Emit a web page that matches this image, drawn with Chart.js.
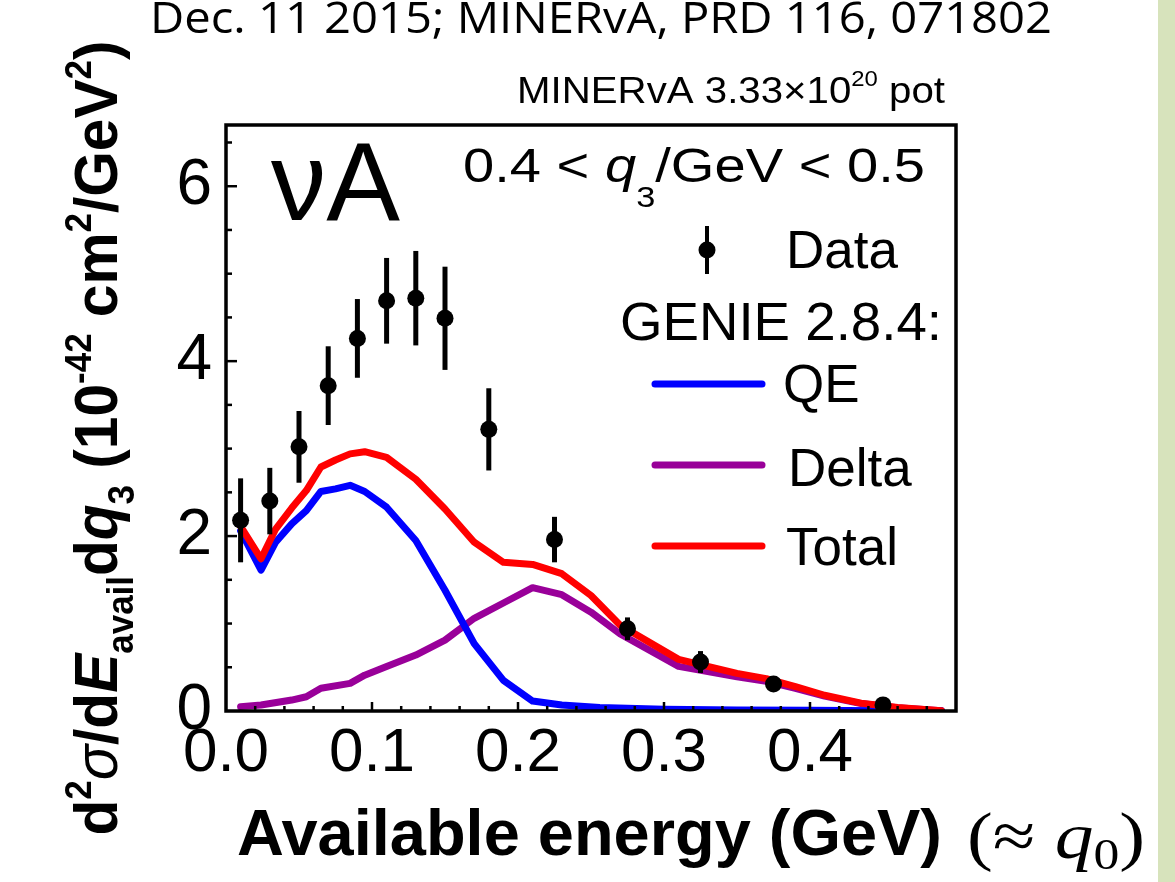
<!DOCTYPE html>
<html>
<head>
<meta charset="utf-8">
<script src="https://cdn.jsdelivr.net/npm/chart.js@4.4.1/dist/chart.umd.min.js"></script>
<style>
  html, body { margin: 0; padding: 0; background: #fff; }
  #wrap { width: 1175px; height: 882px; position: relative; }
</style>
</head>
<body>
<div id="wrap"><canvas id="chart"></canvas></div>
<script>
// MINERvA data points (bin centres, cross section, error)
const dataX   = [0.01, 0.03, 0.05, 0.07, 0.09, 0.11, 0.13, 0.15, 0.18, 0.225, 0.275, 0.325, 0.375, 0.45];
const dataY   = [2.18, 2.40, 3.02, 3.72, 4.26, 4.69, 4.72, 4.49, 3.22, 1.96, 0.94, 0.56, 0.31, 0.07];
const dataErr = [0.48, 0.38, 0.41, 0.45, 0.45, 0.49, 0.54, 0.59, 0.47, 0.26, 0.13, 0.125, 0.06, 0.04];

// GENIE 2.8.4 curves
const totalX = [0.01, 0.024, 0.034, 0.045, 0.055, 0.065, 0.075, 0.085, 0.095, 0.11, 0.13, 0.15, 0.17, 0.19, 0.21, 0.23, 0.25, 0.27, 0.31, 0.35, 0.37, 0.39, 0.41, 0.435, 0.46, 0.49];
const totalY = [2.11, 1.74, 2.08, 2.32, 2.52, 2.79, 2.87, 2.94, 2.965, 2.90, 2.65, 2.31, 1.93, 1.70, 1.676, 1.57, 1.32, 0.98, 0.59, 0.43, 0.37, 0.28, 0.18, 0.09, 0.04, 0.004];
const qeX = [0.01, 0.024, 0.034, 0.045, 0.055, 0.065, 0.075, 0.085, 0.095, 0.11, 0.13, 0.15, 0.17, 0.19, 0.21, 0.23, 0.256, 0.30, 0.35, 0.40, 0.45, 0.49];
const qeY = [2.06, 1.61, 1.93, 2.14, 2.29, 2.51, 2.54, 2.58, 2.51, 2.33, 1.95, 1.38, 0.77, 0.35, 0.114, 0.068, 0.04, 0.02, 0.012, 0.008, 0.004, 0.002];
const deltaX = [0.01, 0.024, 0.045, 0.055, 0.065, 0.085, 0.095, 0.11, 0.13, 0.15, 0.17, 0.19, 0.21, 0.23, 0.25, 0.27, 0.31, 0.35, 0.37, 0.39, 0.41, 0.435, 0.46, 0.49];
const deltaY = [0.05, 0.068, 0.125, 0.163, 0.26, 0.316, 0.41, 0.51, 0.64, 0.81, 1.06, 1.235, 1.41, 1.33, 1.13, 0.88, 0.51, 0.39, 0.34, 0.26, 0.17, 0.085, 0.038, 0.003];

// axis ticks
const xTickValues = [0, 0.1, 0.2, 0.3, 0.4];
const xTickLabels = ['0.0', '0.1', '0.2', '0.3', '0.4'];
const yTickValues = [0, 2, 4, 6];
const yTickLabels = ['0', '2', '4', '6'];

const SANS = "'Liberation Sans', Arial, Helvetica, sans-serif";
const SERIF = "'Liberation Serif', 'Times New Roman', serif";

const toPoints = (xs, ys) => xs.map((x, i) => ({ x: x, y: ys[i] }));

// draws a list of text runs (different fonts / offsets) one after another,
// optionally squeezed to a given length and rotated
function drawRuns(ctx, runs, x, y, opt) {
    opt = opt || {};
    ctx.save();
    let total = 0;
    runs.forEach(r => { ctx.font = r.font; r.w = ctx.measureText(r.t).width; total += r.w; });
    const sx = opt.width ? opt.width / total : 1;
    ctx.translate(x, y);
    if (opt.rotate) ctx.rotate(opt.rotate);
    if (opt.center) ctx.translate(-total * sx / 2, 0);
    ctx.scale(sx, 1);
    ctx.fillStyle = '#000';
    ctx.textBaseline = 'alphabetic';
    ctx.textAlign = 'left';
    let cx = 0;
    runs.forEach(r => {
        ctx.font = r.font;
        ctx.fillText(r.t, cx, r.dy || 0);
        cx += r.w;
    });
    ctx.restore();
}

const decor = {
    id: 'decor',
    beforeDraw(chart) {
        const ctx = chart.ctx;
        ctx.save();
        ctx.fillStyle = '#d7e3bc';
        ctx.fillRect(1158, 0, 17, 882);
        ctx.restore();
    },
    afterDatasetsDraw(chart) {
        // error bars on the data points
        const ctx = chart.ctx, xs = chart.scales.x, ys = chart.scales.y;
        ctx.save();
        ctx.strokeStyle = '#000';
        ctx.lineWidth = 5;
        ctx.lineCap = 'butt';
        dataX.forEach((v, i) => {
            const px = xs.getPixelForValue(v);
            ctx.beginPath();
            ctx.moveTo(px, ys.getPixelForValue(dataY[i] - dataErr[i]));
            ctx.lineTo(px, ys.getPixelForValue(dataY[i] + dataErr[i]));
            ctx.stroke();
        });
        ctx.restore();
    },
    afterDraw(chart) {
        const ctx = chart.ctx, a = chart.chartArea, xs = chart.scales.x, ys = chart.scales.y;
        ctx.save();

        // frame + inward ticks
        ctx.strokeStyle = '#000';
        ctx.lineWidth = 3.5;
        ctx.strokeRect(a.left, a.top, a.right - a.left, a.bottom - a.top);
        ctx.lineWidth = 2.5;
        for (let k = 1; k < 25; k++) {
            const px = xs.getPixelForValue(k * 0.02);
            const len = k % 5 === 0 ? 9 : 5;
            ctx.beginPath(); ctx.moveTo(px, a.bottom); ctx.lineTo(px, a.bottom - len); ctx.stroke();
        }
        for (let k = 1; k <= 13; k++) {
            const py = ys.getPixelForValue(k * 0.5);
            const len = k % 4 === 0 ? 11 : 6;
            ctx.beginPath(); ctx.moveTo(a.left, py); ctx.lineTo(a.left + len, py); ctx.stroke();
        }

        // header lines
        drawRuns(ctx, [{ t: 'Dec. 11 2015; MINERvA, PRD 116, 071802', font: "44px 'Open Sans', " + SANS }], 150, 33, { width: 902 });
        drawRuns(ctx, [
            { t: 'MINERvA 3.33\u00d710', font: '37px ' + SANS },
            { t: '20', font: '22px ' + SANS, dy: -17 },
            { t: ' pot', font: '37px ' + SANS }
        ], 517, 103, { width: 428 });

        // labels inside the frame
        drawRuns(ctx, [{ t: '\u03bdA', font: '112px ' + SANS }], 271, 220, { width: 129 });
        drawRuns(ctx, [
            { t: '0.4 ', font: '49px ' + SANS },
            { t: '<', font: '49px ' + SANS },
            { t: ' ', font: '49px ' + SANS },
            { t: 'q', font: 'italic 49px ' + SANS },
            { t: '3', font: '30px ' + SANS, dy: 25 },
            { t: '/GeV ', font: '49px ' + SANS },
            { t: '<', font: '49px ' + SANS },
            { t: ' 0.5', font: '49px ' + SANS }
        ], 463, 182, { width: 462 });

        // legend
        ctx.strokeStyle = '#000';
        ctx.lineWidth = 4;
        ctx.beginPath(); ctx.moveTo(707, 226); ctx.lineTo(707, 274); ctx.stroke();
        ctx.fillStyle = '#000';
        ctx.beginPath(); ctx.arc(707, 250, 8.5, 0, Math.PI * 2); ctx.fill();
        const lf = '53px ' + SANS;
        drawRuns(ctx, [{ t: 'Data', font: lf }], 786, 268);
        drawRuns(ctx, [{ t: 'GENIE 2.8.4:', font: lf }], 620, 340, { width: 322 });
        const leg = [['QE', '#0000ff', 384, 402, 783], ['Delta', '#990099', 465, 486, 788], ['Total', '#ff0000', 546, 565, 786]];
        leg.forEach(l => {
            ctx.strokeStyle = l[1];
            ctx.lineWidth = 7;
            ctx.lineCap = 'round';
            ctx.beginPath(); ctx.moveTo(655, l[2]); ctx.lineTo(762, l[2]); ctx.stroke();
            drawRuns(ctx, [{ t: l[0], font: lf }], l[4], l[3]);
        });

        // x-axis title
        drawRuns(ctx, [{ t: 'Available energy (GeV)', font: 'bold 65px ' + SANS }], 237, 855, { width: 705 });
        drawRuns(ctx, [
            { t: '(\u2248 ', font: '66px ' + SERIF },
            { t: 'q', font: 'italic 66px ' + SERIF },
            { t: '0', font: '44px ' + SERIF, dy: 11 },
            { t: ')', font: '66px ' + SERIF }
        ], 967, 858, { width: 178 });

        // y-axis title (rotated)
        const S = 62;
        const B = 'bold ' + S + 'px ' + SANS, Bs = 'bold ' + Math.round(S * 0.6) + 'px ' + SANS;
        drawRuns(ctx, [
            { t: 'd', font: B },
            { t: '2', font: Bs, dy: -0.42 * S },
            { t: '\u03c3', font: 'italic ' + S + 'px ' + SANS },
            { t: '/d', font: B },
            { t: 'E', font: 'italic ' + B },
            { t: 'avail', font: Bs, dy: 0.26 * S },
            { t: 'd', font: B },
            { t: 'q', font: 'italic ' + B },
            { t: '3', font: Bs, dy: 0.28 * S },
            { t: ' (10', font: B },
            { t: '-42', font: Bs, dy: -0.42 * S },
            { t: ' cm', font: B },
            { t: '2', font: Bs, dy: -0.42 * S },
            { t: '/GeV', font: B },
            { t: '2', font: Bs, dy: -0.42 * S },
            { t: ')', font: B }
        ], 117, 438, { width: 795, rotate: -Math.PI / 2, center: true });

        ctx.restore();
    }
};

const lineStyle = { pointRadius: 0, borderWidth: 7, fill: false, tension: 0, borderJoinStyle: 'round', borderCapStyle: 'round' };

new Chart(document.getElementById('chart'), {
    type: 'line',
    data: {
        datasets: [
            { label: 'Data', data: toPoints(dataX, dataY), showLine: false, pointRadius: 8.5, pointHoverRadius: 8.5,
              pointBackgroundColor: '#000', pointBorderWidth: 0, borderColor: '#000', backgroundColor: '#000' },
            Object.assign({ label: 'Total', data: toPoints(totalX, totalY), borderColor: '#ff0000' }, lineStyle),
            Object.assign({ label: 'QE', data: toPoints(qeX, qeY), borderColor: '#0000ff' }, lineStyle),
            Object.assign({ label: 'Delta', data: toPoints(deltaX, deltaY), borderColor: '#990099' }, lineStyle)
        ]
    },
    options: {
        responsive: true,
        maintainAspectRatio: false,
        animation: false,
        layout: { padding: { left: 0, top: 125, right: 219, bottom: 0 } },
        plugins: { legend: { display: false }, tooltip: { enabled: false } },
        scales: {
            x: {
                type: 'linear', min: 0, max: 0.5,
                afterFit: s => { s.height = 171; },
                afterBuildTicks: s => { s.ticks = xTickValues.map(v => ({ value: v })); },
                ticks: { callback: (v, i) => xTickLabels[i], font: { family: SANS, size: 62 }, color: '#000',
                         padding: 6, maxRotation: 0, minRotation: 0, autoSkip: false },
                grid: { display: false, drawTicks: false },
                border: { display: false }
            },
            y: {
                min: 0, max: 6.7,
                afterFit: s => { s.width = 226; },
                afterBuildTicks: s => { s.ticks = yTickValues.map(v => ({ value: v })); },
                ticks: { callback: (v, i) => yTickLabels[i], font: { family: SANS, size: 64 }, color: '#000',
                         padding: 14, autoSkip: false },
                grid: { display: false, drawTicks: false },
                border: { display: false }
            }
        }
    },
    plugins: [decor]
});
</script>
</body>
</html>
